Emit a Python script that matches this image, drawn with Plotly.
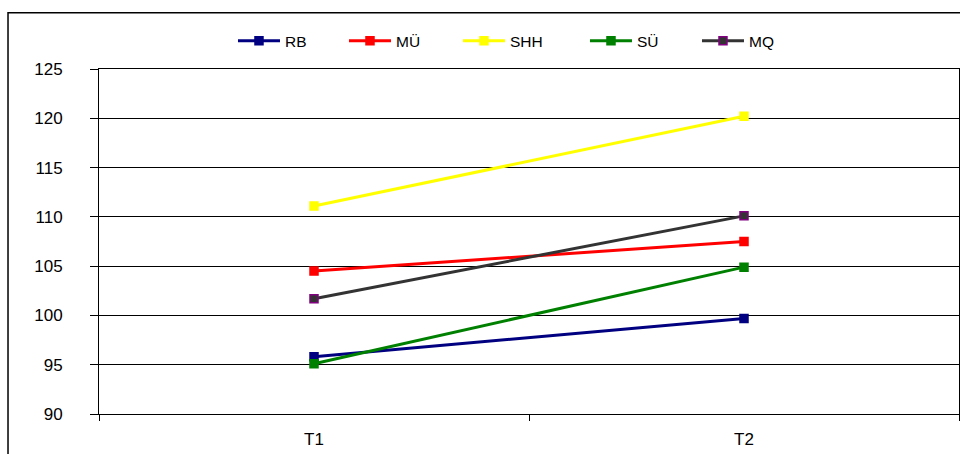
import plotly.graph_objects as go

categories = ["T1", "T2"]
series_names = ["RB", "MÜ", "SHH", "SÜ", "MQ"]
rb = [95.8, 99.7]
mu = [104.5, 107.5]
shh = [111.1, 120.2]
su = [95.1, 104.9]
mq = [101.7, 110.1]
y_ticks = [90, 95, 100, 105, 110, 115, 120, 125]

values = [rb, mu, shh, su, mq]
line_colors = ["#000080", "#FF0000", "#FFFF00", "#008000", "#333333"]
marker_colors = ["#000080", "#FF0000", "#FFFF00", "#008000", "#333333"]
marker_edges = ["#000080", "#FF0000", "#FFFF00", "#008000", "#800080"]
legend_widths = [54, 57, 70, 55, 55]

fig = go.Figure()
for name, vals, lc, mc, me, lw in zip(series_names, values, line_colors, marker_colors,
                                       marker_edges, legend_widths):
    fig.add_trace(go.Scatter(
        x=categories, y=vals, name=name, mode="lines+markers",
        line=dict(color=lc, width=3),
        marker=dict(symbol="square", size=8, color=mc, line=dict(color=me, width=1.5)),
        legendwidth=lw,
    ))

fig.update_layout(
    width=960, height=454,
    margin=dict(l=99, r=1, t=69, b=40),
    paper_bgcolor="white", plot_bgcolor="white",
    font=dict(family="Liberation Sans, Arial, sans-serif", size=17, color="black"),
    showlegend=True,
    legend=dict(orientation="h", x=0.1558, xanchor="left", y=1.081, yanchor="middle",
                font=dict(size=15.5), itemwidth=42, bgcolor="rgba(0,0,0,0)"),
    shapes=[dict(type="rect", xref="paper", yref="paper",
                 x0=-0.1058, x1=1.3, y0=-0.4, y1=1.163,
                 line=dict(color="black", width=1.5), fillcolor="rgba(0,0,0,0)", layer="below")],
)
fig.update_xaxes(
    type="category", range=[-0.5, 1.5], tickson="boundaries",
    ticks="outside", ticklen=6, tickcolor="black",
    showline=True, linecolor="black", linewidth=1, mirror=True,
    showgrid=False, ticklabelstandoff=10,
)
fig.update_yaxes(
    range=[90, 125], tickvals=y_ticks,
    ticks="outside", ticklen=8, tickcolor="black",
    showline=True, linecolor="black", linewidth=1, mirror=True,
    showgrid=True, gridcolor="black", gridwidth=1, zeroline=False,
    ticklabelstandoff=24,
)

fig.write_html("out.html", config={"displayModeBar": False},
               post_script="document.body.style.margin='0';document.body.style.overflow='hidden';")
